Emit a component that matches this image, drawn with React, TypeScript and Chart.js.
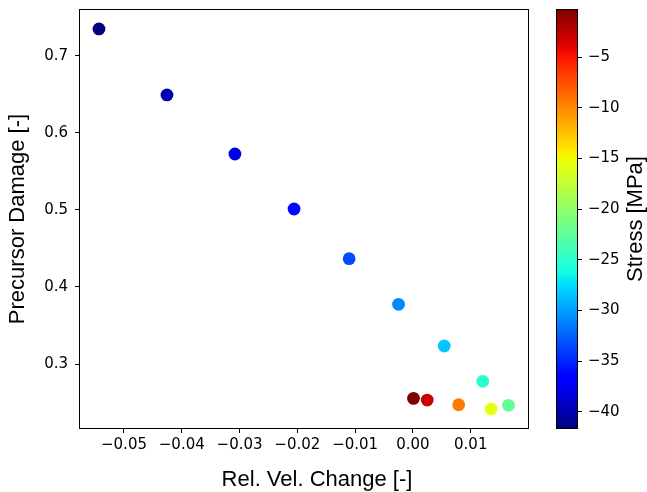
import { useEffect, useRef } from "react";
import { Chart, registerables } from "chart.js";

Chart.register(...registerables);

// ---- data ----
const velChange = [-0.05433, -0.04256, -0.0308, -0.02057, -0.01104, -0.00249, 0.00542, 0.01208, 0.0001, 0.00247, 0.00791, 0.01353, 0.01652];
const damage = [0.7351, 0.6494, 0.5727, 0.5013, 0.4368, 0.3775, 0.3234, 0.2775, 0.2554, 0.2532, 0.2471, 0.2416, 0.2464];
const stress = [-41.6, -39.9, -38.1, -36.2, -33.4, -30.9, -28.4, -25.1, -0.36, -2.9, -9.4, -15.6, -22.2];

const xTicks = [-0.05, -0.04, -0.03, -0.02, -0.01, 0.0, 0.01];
const yTicks = [0.3, 0.4, 0.5, 0.6, 0.7];
const stressTicks = [-40, -35, -30, -25, -20, -15, -10, -5];

const xRange = [-0.05761, 0.01991];
const yRange = [0.2169, 0.7597];
const stressRange = [-41.6, -0.36];

const xLabel = "Rel. Vel. Change [-]";
const yLabel = "Precursor Damage [-]";
const cbarLabel = "Stress [MPa]";

// ---- jet colormap (matplotlib segment data) ----
const jetR = [[0, 0], [0.35, 0], [0.66, 1], [0.89, 1], [1, 0.5]];
const jetG = [[0, 0], [0.125, 0], [0.375, 1], [0.64, 1], [0.91, 0], [1, 0]];
const jetB = [[0, 0.5], [0.11, 1], [0.34, 1], [0.65, 0], [1, 0]];

function seg(s: number[][], t: number): number {
  for (let i = 1; i < s.length; i++) {
    if (t <= s[i][0]) {
      const [x0, y0] = s[i - 1];
      const [x1, y1] = s[i];
      return y0 + ((t - x0) / (x1 - x0)) * (y1 - y0);
    }
  }
  return s[s.length - 1][1];
}
function jet(t: number): string {
  const c = Math.max(0, Math.min(1, t));
  const r = Math.round(seg(jetR, c) * 255);
  const g = Math.round(seg(jetG, c) * 255);
  const b = Math.round(seg(jetB, c) * 255);
  return `rgb(${r},${g},${b})`;
}
const norm = (s: number) => (s - stressRange[0]) / (stressRange[1] - stressRange[0]);

const minus = (s: string) => s.replace("-", "\u2212");
const tickFont = { family: "'DejaVu Sans'", size: 15 };
const titleFont = { family: "'Liberation Sans', Arial", size: 22 };
const titleCss = `${titleFont.size}px ${titleFont.family}`;

const framePlugin = {
  id: "frame",
  afterDraw(chart: any) {
    const a = chart.chartArea;
    const ctx = chart.ctx;
    ctx.save();
    ctx.strokeStyle = "#000";
    ctx.lineWidth = 1;
    ctx.strokeRect(a.left - 0.5, a.top - 0.5, a.right - a.left + 1, a.bottom - a.top + 1);
    ctx.restore();
  },
};

const xTitlePlugin = {
  id: "xTitle",
  afterDraw(chart: any) {
    const a = chart.chartArea;
    const ctx = chart.ctx;
    ctx.save();
    ctx.fillStyle = "#000";
    ctx.font = titleCss;
    ctx.textAlign = "center";
    ctx.textBaseline = "alphabetic";
    ctx.fillText(xLabel, (a.left + a.right) / 2 + 13, 486);
    ctx.restore();
  },
};

const cbarTitlePlugin = {
  id: "cbarTitle",
  afterDraw(chart: any) {
    const a = chart.chartArea;
    const ctx = chart.ctx;
    ctx.save();
    ctx.fillStyle = "#000";
    ctx.font = titleCss;
    ctx.textAlign = "center";
    ctx.textBaseline = "middle";
    ctx.translate(96, (a.top + a.bottom) / 2);
    ctx.rotate(-Math.PI / 2);
    ctx.fillText(cbarLabel, 0, 0);
    ctx.restore();
  },
};

export default function App() {
  const mainRef = useRef<HTMLCanvasElement>(null);
  const cbarRef = useRef<HTMLCanvasElement>(null);

  useEffect(() => {
    const main = new Chart(mainRef.current!, {
      type: "scatter",
      data: {
        datasets: [
          {
            data: velChange.map((x, i) => ({ x, y: damage[i] })),
            pointRadius: 6.4,
            pointHoverRadius: 6.4,
            pointBorderWidth: 0,
            pointBackgroundColor: stress.map((s) => jet(norm(s))),
          },
        ],
      },
      options: {
        responsive: false,
        animation: false,
        devicePixelRatio: 1,
        layout: { padding: { left: 0, top: 10, right: 119, bottom: 0 } },
        plugins: { legend: { display: false }, tooltip: { enabled: false } },
        scales: {
          x: {
            type: "linear",
            min: xRange[0],
            max: xRange[1],
            afterBuildTicks: (s: any) => {
              s.ticks = xTicks.map((v) => ({ value: v }));
            },
            afterFit: (s: any) => {
              s.height = 64;
              s.paddingLeft = 0;
              s.paddingRight = 0;
            },
            grid: { drawOnChartArea: false, drawTicks: true, tickLength: 5, tickColor: "#000", tickWidth: 1 },
            border: { display: false },
            ticks: {
              color: "#000",
              font: tickFont,
              padding: 3,
              maxRotation: 0,
              autoSkip: false,
              callback: (v: any) => minus(Number(v).toFixed(2)),
            },
          },
          y: {
            type: "linear",
            min: yRange[0],
            max: yRange[1],
            afterBuildTicks: (s: any) => {
              s.ticks = yTicks.map((v) => ({ value: v }));
            },
            afterFit: (s: any) => {
              s.width = 80;
              s.paddingTop = 0;
              s.paddingBottom = 0;
            },
            grid: { drawOnChartArea: false, drawTicks: true, tickLength: 5, tickColor: "#000", tickWidth: 1 },
            border: { display: false },
            ticks: {
              color: "#000",
              font: tickFont,
              padding: 7,
              autoSkip: false,
              callback: (v: any) => minus(Number(v).toFixed(1)),
            },
            title: { display: true, text: yLabel, color: "#000", font: titleFont, padding: { top: 5, bottom: 0 } },
          },
        },
      },
      plugins: [framePlugin, xTitlePlugin],
    } as any);

    const cbar = new Chart(cbarRef.current!, {
      type: "bar",
      data: {
        labels: [""],
        datasets: [
          {
            data: [[stressRange[0], stressRange[1]]],
            backgroundColor: (c: any) => {
              const a = c.chart.chartArea;
              if (!a) return "transparent";
              const g = c.chart.ctx.createLinearGradient(0, a.bottom, 0, a.top);
              for (let i = 0; i <= 128; i++) g.addColorStop(i / 128, jet(i / 128));
              return g;
            },
            borderWidth: 0,
            barPercentage: 1,
            categoryPercentage: 1,
          },
        ],
      },
      options: {
        responsive: false,
        animation: false,
        devicePixelRatio: 1,
        layout: { padding: { left: 17, top: 10, right: 0, bottom: 64 } },
        plugins: { legend: { display: false }, tooltip: { enabled: false } },
        scales: {
          x: { type: "category", display: false },
          y: {
            type: "linear",
            position: "right",
            min: stressRange[0],
            max: stressRange[1],
            afterBuildTicks: (s: any) => {
              s.ticks = stressTicks.map((v) => ({ value: v }));
            },
            afterFit: (s: any) => {
              s.width = 70;
              s.paddingTop = 0;
              s.paddingBottom = 0;
            },
            grid: { drawOnChartArea: false, drawTicks: true, tickLength: 5, tickColor: "#000", tickWidth: 1 },
            border: { display: false },
            ticks: {
              color: "#000",
              font: tickFont,
              padding: 6,
              autoSkip: false,
              callback: (v: any) => minus(String(v)),
            },
          },
        },
      },
      plugins: [framePlugin, cbarTitlePlugin],
    } as any);

    return () => {
      main.destroy();
      cbar.destroy();
    };
  }, []);

  return (
    <div style={{ position: "fixed", left: 0, top: 0, width: 647, height: 492, background: "#fff" }}>
      <canvas ref={mainRef} width={647} height={492} style={{ position: "absolute", left: 0, top: 0 }} />
      <canvas ref={cbarRef} width={107} height={492} style={{ position: "absolute", left: 540, top: 0 }} />
    </div>
  );
}
